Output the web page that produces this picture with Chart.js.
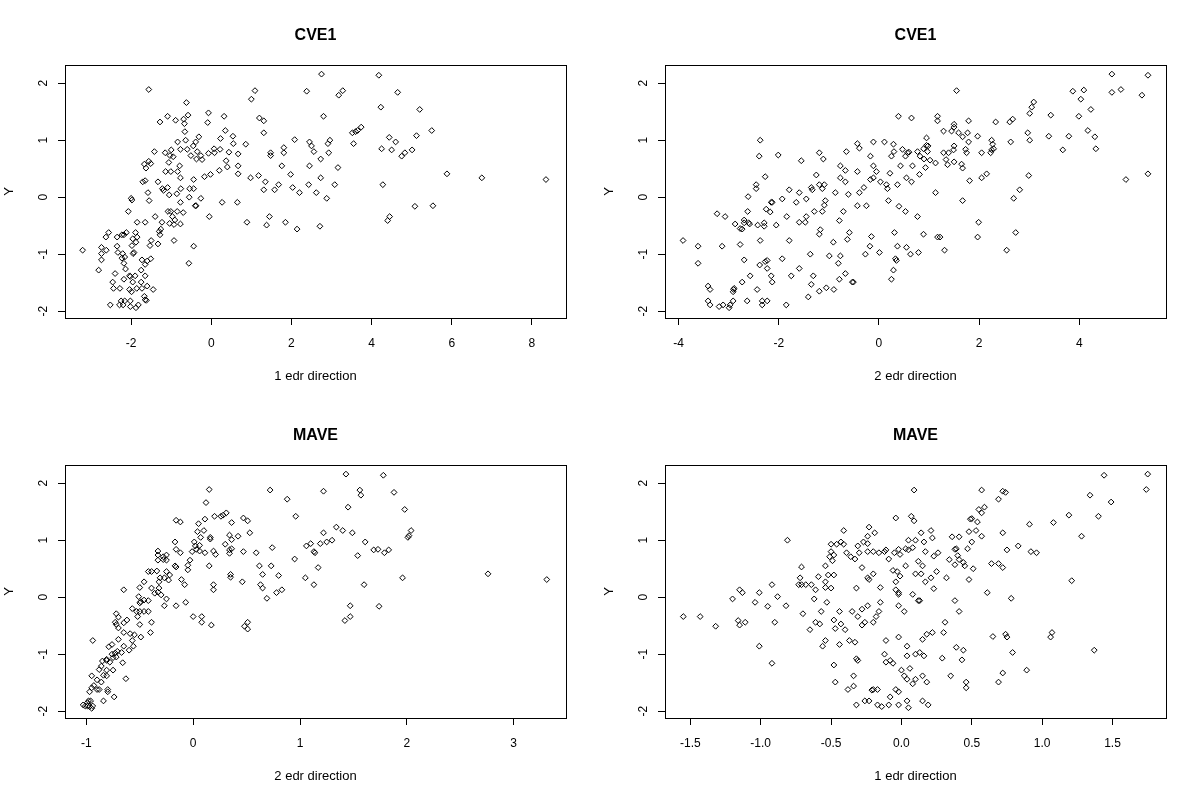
<!DOCTYPE html>
<html><head><meta charset="utf-8">
<script src="https://cdn.jsdelivr.net/npm/chart.js@4.4.0/dist/chart.umd.min.js"></script>
<style>
html,body{margin:0;padding:0;background:#fff;}
#wrap{position:relative;width:1200px;height:800px;background:#fff;}
.cell{position:absolute;width:600px;height:400px;}
</style></head><body>
<div id="wrap">
<div class="cell" style="left:0;top:0"><canvas id="c1" width="600" height="400"></canvas></div>
<div class="cell" style="left:600px;top:0"><canvas id="c2" width="600" height="400"></canvas></div>
<div class="cell" style="left:0;top:400px"><canvas id="c3" width="600" height="400"></canvas></div>
<div class="cell" style="left:600px;top:400px"><canvas id="c4" width="600" height="400"></canvas></div>
</div>
<script>
// ---- data ----
const panelTitles = ['CVE1', 'CVE1', 'MAVE', 'MAVE'];
const xTitles = ['1 edr direction', '2 edr direction', '2 edr direction', '1 edr direction'];
const yTitle = 'Y';
const yTicks = [-2, -1, 0, 1, 2];
const yTickLabels = ['-2', '-1', '0', '1', '2'];
const xTicks1 = [-2, 0, 2, 4, 6, 8];
const xTickLabels1 = ['-2', '0', '2', '4', '6', '8'];
const xTicks2 = [-4, -2, 0, 2, 4];
const xTickLabels2 = ['-4', '-2', '0', '2', '4'];
const xTicks3 = [-1, 0, 1, 2, 3];
const xTickLabels3 = ['-1', '0', '1', '2', '3'];
const xTicks4 = [-1.5, -1.0, -0.5, 0.0, 0.5, 1.0, 1.5];
const xTickLabels4 = ['-1.5', '-1.0', '-0.5', '0.0', '0.5', '1.0', '1.5'];
const xLimits1 = [-3.65, 8.85];
const xLimits2 = [-4.27, 5.73];
const xLimits3 = [-1.20, 3.49];
const xLimits4 = [-1.68, 1.88];
const yLimits = [-2.12, 2.32];

// CVE1, 1 edr direction vs Y
const cve1Dir1 = [
[-1.56,1.89],[-0.62,1.66],[-1.09,1.42],[-1.28,1.32],[-0.89,1.35],[-0.69,1.37],[-0.58,1.44],[-0.67,1.29],[-0.07,1.48],[-0.09,1.31],[0.32,1.42],[-0.66,1.15],[0.35,1.17],[-0.84,0.97],[-0.64,1.0],[-0.39,0.97],[-0.31,1.06],[-0.45,0.9],[0.23,1.03],[0.54,1.07],[0.55,0.94],[0.86,0.93],[-1.42,0.8],[-1.15,0.78],[-1.0,0.83],[-1.03,0.73],[-0.77,0.84],[-0.6,0.84],[-0.51,0.73],[-0.35,0.8],[-0.37,0.67],[-0.26,0.73],[-0.23,0.66],[-0.07,0.77],[0.07,0.85],[0.08,0.78],[0.22,0.84],[0.44,0.79],[0.67,0.76],[0.37,0.64],[0.4,0.53],[0.67,0.55],[0.67,0.41],[0.2,0.47],[0.98,0.34],
[-1.67,0.58],[-1.63,0.51],[-1.51,0.59],[-1.56,0.63],[-0.95,0.71],[-1.06,0.61],[-1.14,0.45],[-1.01,0.45],[-0.84,0.45],[-0.79,0.55],[-0.77,0.34],[-0.44,0.31],[-0.17,0.36],[-0.02,0.4],[-1.71,0.27],[-1.65,0.29],[-1.58,0.08],[-1.55,-0.06],[-2.0,-0.02],[-1.98,-0.05],[-1.33,0.27],[-1.22,0.15],[-1.09,0.17],[-1.19,0.12],[-1.05,0.04],[-0.86,0.06],[-0.76,0.15],[-0.54,0.15],[-0.44,0.15],[-0.55,0.0],[-0.26,-0.02],[-0.4,-0.15],[-0.38,-0.15],[0.27,-0.09],[0.65,-0.09],[-0.05,-0.34],[0.89,-0.44],
[-2.07,-0.25],[-1.85,-0.44],[-1.65,-0.44],[-1.4,-0.34],[-1.08,-0.25],[-1.01,-0.25],[-0.85,-0.25],[-0.97,-0.34],[-0.91,-0.4],[-1.04,-0.46],[-0.93,-0.48],[-0.77,-0.47],[-0.7,-0.27],[-0.77,-0.09],[-1.26,-0.56],[-1.3,-0.6],[-1.28,-0.66],[-1.23,-0.44],[-1.33,-0.82],[-1.5,-0.76],[-1.53,-0.85],[-0.93,-0.76],[-0.44,-0.86],[-0.56,-1.16],
[-2.56,-0.62],[-2.63,-0.7],[-2.35,-0.7],[-2.23,-0.66],[-2.18,-0.66],[-2.12,-0.62],[-1.89,-0.62],[-1.85,-0.7],[-1.96,-0.73],[-1.88,-0.79],[-1.98,-0.85],[-2.74,-0.88],[-2.62,-0.93],[-3.21,-0.93],[-2.74,-0.99],[-2.74,-1.1],[-2.35,-0.86],[-2.33,-0.97],[-2.21,-0.99],[-2.23,-1.07],[-2.16,-1.05],[-1.93,-0.97],[-1.95,-0.99],[-2.18,-1.16],[-2.14,-1.26],[-1.73,-1.1],[-1.6,-1.12],[-1.51,-1.08],[-1.65,-1.18],[-1.75,-1.28],[-2.81,-1.28],[-2.4,-1.34],[-2.46,-1.49],[-2.44,-1.6],[-2.28,-1.6],[-2.18,-1.44],[-2.04,-1.38],[-2.02,-1.39],[-1.9,-1.38],[-1.65,-1.38],[-1.96,-1.49],[-1.75,-1.49],[-2.04,-1.62],[-1.99,-1.66],[-1.86,-1.6],[-1.73,-1.6],[-1.6,-1.56],[-1.45,-1.62],[-2.52,-1.89],[-2.29,-1.89],[-2.25,-1.82],[-2.2,-1.89],[-2.16,-1.82],[-2.02,-1.82],[-2.02,-1.92],[-1.88,-1.94],[-1.82,-1.89],[-1.65,-1.8],[-1.62,-1.81],[-1.67,-1.74],[1.09,1.87],[1.0,1.72],
[2.75,2.16],[4.18,2.14],[2.38,1.86],[3.18,1.79],[3.28,1.87],[4.65,1.84],[4.23,1.58],[5.2,1.54],[2.8,1.42],[1.2,1.39],[1.31,1.34],[1.31,1.13],[3.52,1.13],[3.6,1.15],[3.65,1.17],[3.74,1.23],[5.5,1.17],[4.44,1.05],[5.12,1.08],[4.6,0.97],[2.08,1.01],[2.45,0.97],[2.5,0.9],[2.56,0.8],[2.96,1.0],[2.91,0.94],[2.93,0.78],[3.55,0.94],[1.81,0.87],[1.81,0.78],[1.48,0.78],[1.48,0.73],[2.73,0.67],[4.25,0.85],[4.5,0.83],[4.83,0.78],[4.75,0.72],[5.01,0.83],[1.76,0.55],[2.45,0.55],[3.16,0.52],[1.98,0.4],[1.18,0.38],[1.35,0.27],[1.31,0.13],[1.58,0.13],[1.68,0.22],[2.03,0.17],[2.2,0.08],[2.43,0.22],[2.62,0.08],[2.73,0.34],[2.88,-0.02],[3.08,0.22],[4.28,0.22],[5.88,0.41],[6.75,0.34],[8.35,0.31],[5.08,-0.16],[5.53,-0.15],[1.45,-0.34],[1.38,-0.49],[1.85,-0.44],[2.14,-0.56],[2.71,-0.51],[4.4,-0.41],[4.45,-0.34]
];

// CVE1, 2 edr direction vs Y
const cve1Dir2 = [
[-3.91,-0.76],[-3.61,-0.86],[-3.61,-1.16],[-3.13,-0.86],[-3.41,-1.56],[-3.37,-1.62],[-3.41,-1.82],[-3.37,-1.89],[-3.19,-1.92],[-3.11,-1.89],[-2.99,-1.94],[-2.97,-1.89],[-2.91,-1.82],[-2.91,-1.66],[-2.9,-1.62],[-2.89,-1.6],[-2.73,-1.49],[-2.57,-1.38],[-2.63,-1.82],[-2.43,-1.62],[-2.33,-1.82],[-2.33,-1.89],[-2.23,-1.82],[-2.38,-1.19],[-2.27,-1.13],[-2.23,-1.11],[-2.69,-1.1],[-2.23,-1.25],[-2.15,-1.38],[-2.13,-1.49],[-1.85,-1.89],[-1.93,-1.08],[-1.75,-1.38],[-1.59,-1.25],[-1.41,-1.75],[-1.35,-1.53],[-1.31,-1.38],[-1.37,-1.0],[-1.19,-1.65],[-1.05,-1.59],[-0.9,-1.62],[-0.99,-1.03],[-0.81,-1.16],[-0.77,-1.03],[-0.79,-1.44],[-0.67,-1.34],[-0.53,-1.49],[-0.51,-1.49],[-0.27,-1.0],[-0.18,-0.86],[-0.15,-0.69],[0.01,-0.97],[0.25,-1.44],[0.29,-1.28],[0.33,-1.08],[0.35,-1.11],[0.37,-0.86],[0.31,-0.62],[0.55,-0.88],[0.63,-1.0],
[-2.77,-0.83],[-2.37,-0.76],[-1.79,-0.76],[-0.91,-0.79],[-0.63,-0.74],[-0.59,-0.62],[-1.19,-0.65],[-1.17,-0.57],[-0.79,-0.41],[-0.71,-0.25],[-3.23,-0.29],[-3.07,-0.34],[-2.87,-0.47],[-2.77,-0.55],[-2.73,-0.56],[-2.69,-0.4],[-2.69,-0.45],[-2.62,-0.25],[-2.6,-0.45],[-2.58,-0.47],[-2.42,-0.49],[-2.29,-0.45],[-2.29,-0.51],[-2.25,-0.21],[-2.17,-0.26],[-2.05,-0.49],[-1.84,-0.34],[-1.59,-0.44],[-1.47,-0.44],[-1.45,-0.34],[-1.29,-0.25],[-1.13,-0.25],[-1.09,-0.14],[-1.07,-0.06],
[-2.61,0.01],[-2.15,-0.09],[-2.13,-0.09],[-1.93,-0.03],[-1.65,-0.09],[-1.59,0.08],[-1.45,-0.03],[-1.35,0.17],[-1.33,0.13],[-1.19,0.22],[-1.13,0.15],[-1.09,0.22],[-1.25,0.39],[-1.79,0.13],[-2.45,0.22],[-2.45,0.15],[-2.27,0.36],[-2.39,0.72],[-2.37,1.0],[-2.01,0.74],[-1.55,0.64],[-1.19,0.78],[-1.11,0.67],[-0.87,0.08],[-0.77,0.55],[-0.77,0.34],[-0.67,0.47],[-0.67,0.27],[-0.65,0.8],[-0.61,0.05],[-0.43,0.94],[-0.39,0.86],[-0.43,0.45],[-0.39,0.08],[-0.3,0.17],[-0.43,-0.15],[-0.25,-0.15],[-0.17,0.72],[-0.11,0.97],[-0.11,0.55],[-0.05,0.45],[-0.11,0.34],[-0.17,0.31],[0.03,0.27],[0.11,0.97],[0.29,0.93],[0.25,0.72],[0.3,0.8],[0.22,0.42],[0.15,0.22],[0.17,0.15],[0.37,0.22],[0.19,-0.06],[0.4,-0.16],[0.53,-0.25],[0.39,1.42],[0.65,1.39],[0.47,0.84],[0.53,0.72],[0.57,0.78],[0.6,0.79],[0.43,0.55],[0.67,0.55],[0.55,0.34],[0.65,0.27],
[4.65,2.16],[5.37,2.14],[3.87,1.86],[4.09,1.88],[4.65,1.84],[4.83,1.89],[5.25,1.79],[4.03,1.72],[4.23,1.54],[3.99,1.42],[3.09,1.67],[3.05,1.58],[3.01,1.47],[3.43,1.44],[1.55,1.87],[1.17,1.42],[1.17,1.34],[1.79,1.34],[2.33,1.32],[2.61,1.32],[2.67,1.37],[1.29,1.16],[1.45,1.16],[1.5,1.28],[1.5,1.23],[1.59,1.13],[1.67,1.06],[1.77,1.13],[1.79,0.97],[1.97,1.07],[2.25,1.0],[2.27,0.93],[2.29,0.85],[2.25,0.83],[2.23,0.78],[2.05,0.78],[2.63,0.97],[2.97,1.13],[3.01,1.0],[3.39,1.07],[3.79,1.07],[4.17,1.17],[4.31,1.06],[3.67,0.83],[4.33,0.85],
[0.95,1.04],[0.95,0.91],[0.98,0.9],[0.89,0.85],[0.77,0.8],[0.97,0.8],[0.82,0.72],[0.9,0.67],[1.02,0.65],[1.13,0.6],[1.29,0.78],[1.39,0.78],[1.49,0.83],[1.5,0.9],[1.34,0.66],[1.37,0.57],[1.5,0.62],[1.65,0.58],[1.67,0.51],[1.73,0.84],[1.75,0.78],[0.93,0.52],[0.81,0.4],[1.81,0.29],[2.05,0.34],[2.15,0.41],[2.99,0.38],[1.13,0.08],[1.67,-0.06],[2.81,0.13],[2.69,-0.02],[4.93,0.31],[5.37,0.41],[0.77,-0.34],[0.89,-0.65],[1.17,-0.7],[1.22,-0.7],[1.99,-0.44],[1.97,-0.7],[2.73,-0.62],[0.79,-0.97],[1.31,-0.93],[2.55,-0.93]
];

// MAVE, 2 edr direction vs Y
const maveDir2 = [
[0.15,1.89],[0.12,1.66],[0.2,1.42],[0.26,1.42],[0.28,1.44],[0.31,1.48],[0.36,1.31],[-0.16,1.35],[-0.12,1.32],[0.05,1.29],[0.11,1.37],[0.04,1.15],[0.1,1.17],[0.07,1.05],[0.16,1.05],[0.16,1.02],[0.34,1.09],[0.36,1.01],[-0.17,0.97],[-0.16,0.84],[-0.12,0.78],[0.01,0.97],[0.02,0.9],[0.06,0.91],[-0.01,0.8],[0.03,0.84],[0.06,0.81],[0.11,0.78],[0.19,0.81],[0.21,0.75],[0.3,0.93],[0.34,0.83],[0.34,0.77],[0.15,0.55],[-0.03,0.65],[-0.05,0.56],[-0.05,0.48],[-0.11,0.31],[-0.08,0.22],[-0.17,0.55],[-0.16,0.53],[0.19,0.22],[0.19,0.13],[0.35,0.4],[0.35,0.35],
[-0.33,0.81],[-0.33,0.74],[-0.28,0.71],[-0.25,0.74],[-0.25,0.65],[-0.33,0.65],[-0.28,0.66],[-0.39,0.45],[-0.34,0.46],[-0.25,0.45],[-0.31,0.34],[-0.27,0.34],[-0.22,0.39],[-0.23,0.3],[-0.32,0.27],[-0.32,0.16],[-0.33,0.09],[-0.3,0.04],[-0.25,-0.03],[-0.27,-0.15],[-0.16,-0.15],[-0.07,-0.09],[-0.42,0.45],[-0.46,0.27],[-0.39,0.16],[-0.36,0.07],[-0.5,0.17],[-0.51,0.01],[-0.49,-0.08],[-0.46,-0.05],[-0.42,-0.06],[-0.5,-0.1],[-0.57,-0.2],[-0.53,-0.25],[-0.5,-0.25],[-0.46,-0.25],[-0.42,-0.25],[-0.52,-0.34],[-0.5,-0.48],[-0.39,-0.44],[-0.4,-0.62],[-0.49,-0.7],[-0.65,0.13],[0.0,-0.34],[0.08,-0.34],[0.08,-0.44],[0.17,-0.49],
[-0.72,-0.29],[-0.7,-0.35],[-0.62,-0.4],[-0.65,-0.45],[-0.73,-0.44],[-0.72,-0.48],[-0.7,-0.54],[-0.65,-0.62],[-0.59,-0.64],[-0.55,-0.66],[-0.57,-0.76],[-0.56,-0.86],[-0.6,-0.93],[-0.65,-0.86],[-0.7,-0.74],[-0.76,-0.83],[-0.79,-0.87],[-0.71,-0.95],[-0.76,-1.0],[-0.73,-0.98],[-0.67,-0.97],[-0.75,-1.06],[-0.72,-1.05],[-0.81,-1.09],[-0.85,-1.12],[-0.81,-1.11],[-0.86,-1.21],[-0.78,-1.14],[-0.66,-1.15],[-0.75,-1.28],[-0.81,-1.28],[-0.88,-1.27],[-0.84,-1.37],[-0.95,-1.38],[-0.81,-1.38],[-0.63,-1.43],[-0.9,-1.45],[-0.86,-1.49],[-0.93,-1.55],[-0.95,-1.59],[-0.9,-1.62],[-0.88,-1.62],[-0.97,-1.66],[-0.8,-1.62],[-0.8,-1.66],[-0.84,-1.82],[-0.74,-1.75],[-0.94,-0.76],[-1.03,-1.89],[-1.01,-1.91],[-0.99,-1.85],[-0.98,-1.82],[-0.96,-1.82],[-0.97,-1.92],[-0.94,-1.91],[-0.95,-1.95],[-0.99,-1.91],[0.36,0.85],
[1.43,2.16],[1.78,2.14],[0.72,1.88],[1.22,1.86],[1.56,1.88],[1.57,1.79],[1.88,1.84],[0.88,1.72],[1.45,1.58],[1.98,1.54],[0.96,1.42],[0.47,1.39],[0.51,1.34],[0.53,1.13],[0.42,1.07],[1.34,1.23],[1.4,1.17],[1.22,1.13],[1.49,1.13],[2.04,1.17],[2.02,1.08],[2.01,1.05],[1.3,1.0],[1.25,0.97],[1.19,0.94],[1.1,0.94],[1.06,0.9],[1.13,0.8],[1.14,0.78],[0.74,0.87],[1.61,0.97],[1.69,0.83],[1.73,0.84],[1.79,0.78],[1.83,0.83],[1.54,0.73],[0.47,0.8],[0.59,0.78],[0.95,0.67],[0.62,0.55],[0.73,0.55],[0.65,0.4],[0.8,0.38],[1.17,0.52],[1.05,0.34],[1.13,0.22],[0.46,0.27],[0.63,0.22],[0.65,0.16],[0.78,0.08],[0.83,0.13],[0.69,-0.02],[1.6,0.22],[1.96,0.34],[2.76,0.41],[3.31,0.31],[1.47,-0.15],[1.74,-0.16],[1.42,-0.41],[1.47,-0.34],[0.48,-0.51],[0.51,-0.44],[0.51,-0.56]
];

// MAVE, 1 edr direction vs Y
const maveDir1 = [
[-1.55,-0.34],[-1.43,-0.34],[-1.32,-0.51],[-1.2,-0.03],[-1.15,0.13],[-1.13,0.08],[-1.16,-0.41],[-1.15,-0.49],[-1.11,-0.44],[-1.04,-0.09],[-1.01,0.08],[-1.01,-0.86],[-0.95,-0.16],[-0.92,0.22],[-0.9,-0.44],[-0.88,0.01],[-0.92,-1.16],[-0.82,-0.15],[-0.81,1.0],[-0.71,0.53],[-0.72,0.34],[-0.73,0.22],[-0.71,0.22],[-0.68,0.22],[-0.64,0.22],[-0.7,-0.29],[-0.65,-0.57],[-0.62,-0.03],[-0.61,0.13],[-0.59,0.36],[-0.61,-0.44],[-0.58,-0.47],[-0.57,-0.25],[-0.56,-0.86],[-0.54,-0.76],[-0.54,0.17],[-0.54,0.27],[-0.54,0.55],[-0.53,-0.09],[-0.52,0.39],[-0.5,0.16],[-0.48,0.39],[-0.51,0.71],[-0.5,0.8],[-0.49,0.64],[-0.48,0.74],[-0.5,0.93],[-0.46,0.93],[-0.43,0.97],[-0.41,0.93],[-0.41,1.17],[-0.48,-0.4],[-0.47,-0.55],[-0.44,-0.25],[-0.43,-0.47],[-0.44,-0.83],[-0.48,-1.19],[-0.47,-1.49],[-0.4,-0.57],
[-0.39,0.78],[-0.36,0.71],[-0.33,0.67],[-0.3,0.78],[-0.31,0.9],[-0.27,0.97],[-0.24,0.94],[-0.24,1.07],[-0.23,1.23],[-0.19,1.13],[-0.24,0.8],[-0.2,0.8],[-0.16,0.78],[-0.12,0.8],[-0.11,0.83],[-0.32,0.16],[-0.28,0.52],[-0.24,0.34],[-0.23,0.31],[-0.2,0.41],[-0.15,0.17],[-0.37,-0.76],[-0.35,-0.25],[-0.34,-1.56],[-0.34,-1.38],[-0.38,-1.62],[-0.33,-0.79],[-0.32,-1.89],[-0.32,-1.08],[-0.31,-1.11],[-0.31,-0.34],[-0.28,-0.49],[-0.28,-0.21],[-0.26,-0.44],[-0.24,-0.15],[-0.26,-1.82],[-0.23,-1.82],[-0.21,-1.63],[-0.17,-1.62],[-0.2,-1.62],[-0.17,-1.89],[-0.14,-1.92],[-0.09,-1.89],[-0.08,-1.75],[-0.2,-0.44],[-0.18,-0.34],[-0.16,-0.25],[-0.15,-0.09],[-0.11,-0.76],[-0.12,-1.0],[-0.11,-1.14],[-0.08,-1.11],[-0.06,-1.16],
[-0.09,0.67],[-0.05,0.78],[-0.02,0.84],[-0.01,0.75],[-0.06,0.47],[-0.03,0.45],[-0.01,0.37],[-0.04,0.27],[-0.04,0.13],[-0.02,0.08],[-0.02,0.05],[-0.02,-0.15],[0.02,-0.25],[-0.02,-0.7],[0.04,-0.86],[0.04,-1.03],[-0.04,1.39],[0.07,1.42],[0.09,1.88],[0.03,0.55],[0.05,1.0],[0.03,0.85],[0.05,0.83],[0.08,0.87],[0.0,-1.28],[0.02,-1.38],[0.04,-1.44],[0.06,-1.25],[0.08,-1.52],[-0.04,-1.62],[-0.02,-1.66],[-0.02,-1.89],[0.04,-1.82],[0.05,-1.94],[0.08,0.05],
[1.44,2.14],[1.75,2.16],[1.74,1.89],[1.34,1.79],[1.49,1.67],[1.4,1.42],[1.19,1.44],[1.08,1.31],[1.28,1.07],[1.21,0.29],[0.91,1.28],[0.83,0.9],[0.92,0.8],[0.96,0.78],[0.75,0.83],[0.72,1.13],[0.69,1.72],[0.72,1.86],[0.74,1.84],[0.57,1.88],[0.55,1.54],[0.59,1.58],[0.57,1.48],[0.49,1.37],[0.5,1.38],[0.54,1.32],[0.53,1.17],[0.48,1.15],[0.57,1.07],[0.5,0.97],[0.47,0.85],[0.64,0.59],[0.69,0.59],[0.72,0.52],[0.61,0.08],[0.78,-0.02],
[0.09,1.34],[0.14,1.13],[0.21,1.17],[0.22,1.04],[0.1,1.0],[0.16,0.97],[0.17,0.8],[0.23,0.72],[0.26,0.78],[0.36,1.06],[0.41,1.06],[0.38,0.84],[0.39,0.85],[0.4,0.73],[0.34,0.66],[0.38,0.57],[0.41,0.66],[0.44,0.61],[0.45,0.55],[0.51,0.5],[0.48,0.31],[0.12,0.63],[0.15,0.55],[0.1,0.41],[0.14,0.41],[0.17,0.27],[0.21,0.34],[0.25,0.45],[0.23,0.15],[0.32,0.34],[0.12,-0.06],[0.13,-0.06],[0.38,-0.06],[0.41,-0.25],[0.31,-0.44],[0.3,-0.62],[0.22,-0.62],[0.18,-0.65],[0.15,-0.74],[0.1,-1.0],[0.13,-0.97],[0.16,-1.03],[0.29,-1.07],[0.39,-0.88],[0.44,-0.93],[0.43,-1.1],[0.35,-1.38],[0.46,-1.49],[0.46,-1.59],[0.65,-0.69],[0.74,-0.65],[0.75,-0.7],[0.79,-0.97],[0.72,-1.33],[0.69,-1.49],[0.89,-1.28],[1.07,-0.62],[1.06,-0.7],[1.37,-0.93],[0.1,-1.44],[0.15,-1.38],[0.18,-1.49],[0.15,-1.82],[0.19,-1.89]
];

// ---- drawing ----
const FONT = "'Liberation Sans', Arial, Helvetica, sans-serif";

const boxPlugin = {
  id: 'plotBox',
  afterDraw(chart) {
    const a = chart.chartArea, ctx = chart.ctx;
    ctx.save();
    ctx.strokeStyle = '#000';
    ctx.lineWidth = 1;
    ctx.strokeRect(Math.round(a.left) + 0.5, Math.round(a.top) + 0.5,
                   Math.round(a.right - a.left), Math.round(a.bottom - a.top));
    ctx.restore();
  }
};

function makePanel(id, title, xTitle, pts, xTicks, xLabels, xLim) {
  const data = pts.map(p => ({x: p[0], y: p[1]}));
  new Chart(document.getElementById(id), {
    type: 'scatter',
    data: {datasets: [{
      data: data,
      pointStyle: 'rectRot',
      pointRadius: 2.9,
      pointBorderWidth: 1,
      borderColor: '#000',
      backgroundColor: 'rgba(0,0,0,0)',
      pointBackgroundColor: 'rgba(0,0,0,0)',
      pointBorderColor: '#000'
    }]},
    plugins: [boxPlugin],
    options: {
      responsive: false,
      animation: false,
      events: [],
      devicePixelRatio: 1,
      layout: {padding: {top: 0, left: 0, right: 34, bottom: 0}},
      plugins: {
        legend: {display: false},
        tooltip: {enabled: false},
        title: {
          display: true, text: title, fullSize: false, color: '#000',
          font: {family: FONT, size: 16, weight: 'bold', lineHeight: 1.2},
          padding: {top: 26.4, bottom: 19.4}
        }
      },
      scales: {
        x: {
          type: 'linear', position: 'bottom',
          min: xLim[0], max: xLim[1],
          afterBuildTicks: s => { s.ticks = xTicks.map(v => ({value: v})); },
          afterFit: s => { s.height = 82; },
          ticks: {
            color: '#000', font: {family: FONT, size: 12}, padding: 11,
            maxRotation: 0, minRotation: 0, autoSkip: false,
            callback: (v, i) => xLabels[i]
          },
          grid: {display: true, drawOnChartArea: false, drawTicks: true, tickLength: 7, color: '#000', lineWidth: 1},
          border: {display: false},
          title: {display: true, text: xTitle, color: '#000', font: {family: FONT, size: 13}, padding: {top: 0, bottom: 16.2}}
        },
        y: {
          type: 'linear', position: 'left',
          min: yLimits[0], max: yLimits[1],
          afterBuildTicks: s => { s.ticks = yTicks.map(v => ({value: v})); },
          afterFit: s => { s.width = 65; },
          ticks: {
            color: '#000', font: {family: FONT, size: 12}, padding: 9,
            minRotation: 90, maxRotation: 90, crossAlign: 'center', autoSkip: false,
            callback: (v, i) => yTickLabels[i]
          },
          grid: {display: true, drawOnChartArea: false, drawTicks: true, tickLength: 7, color: '#000', lineWidth: 1},
          border: {display: false},
          title: {display: true, text: yTitle, color: '#000', font: {family: FONT, size: 13}, padding: {top: 1.2, bottom: 0}}
        }
      }
    }
  });
}

makePanel('c1', panelTitles[0], xTitles[0], cve1Dir1, xTicks1, xTickLabels1, xLimits1);
makePanel('c2', panelTitles[1], xTitles[1], cve1Dir2, xTicks2, xTickLabels2, xLimits2);
makePanel('c3', panelTitles[2], xTitles[2], maveDir2, xTicks3, xTickLabels3, xLimits3);
makePanel('c4', panelTitles[3], xTitles[3], maveDir1, xTicks4, xTickLabels4, xLimits4);
</script>
</body></html>
